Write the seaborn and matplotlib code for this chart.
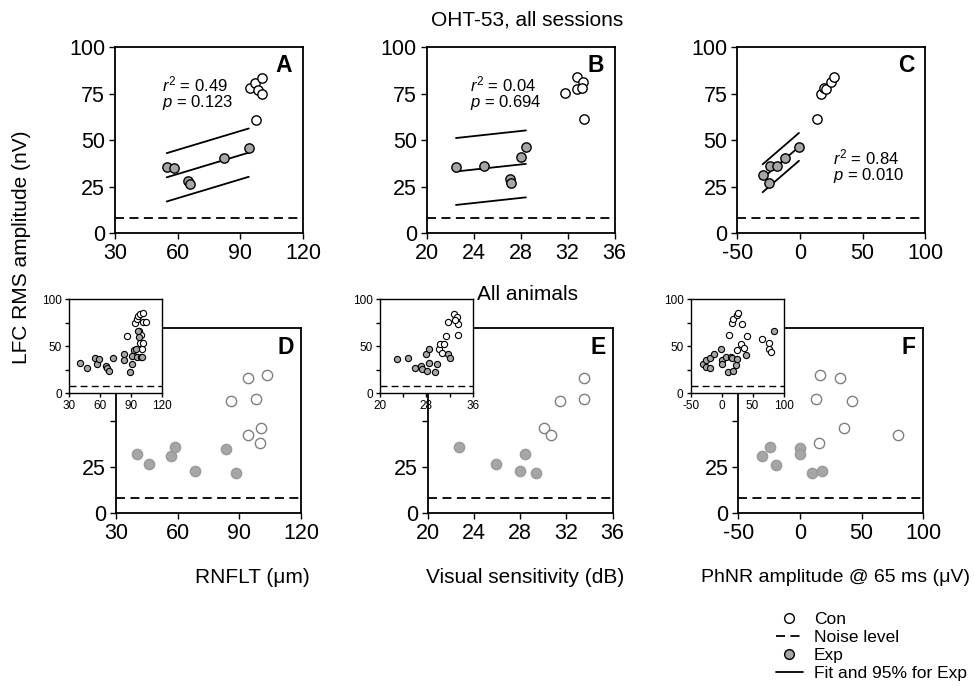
import numpy as np
import seaborn as sns
import matplotlib.pyplot as plt
from matplotlib.lines import Line2D

sns.set_style('ticks')
plt.rcParams['font.family'] = ['Liberation Sans', 'DejaVu Sans']
plt.rcParams['mathtext.fontset'] = 'custom'
plt.rcParams['mathtext.rm'] = 'Liberation Sans'
plt.rcParams['mathtext.it'] = 'Liberation Sans:italic'
plt.rcParams['axes.unicode_minus'] = False
plt.rcParams['text.color'] = 'black'
plt.rcParams['axes.labelcolor'] = 'black'

# ---------------- data: OHT-53, all sessions (top row) ----------------
rnflt_con_A = [94.6, 97.0, 100.5, 98.7, 100.5, 97.3]
lfc_con_A = [78.3, 80.8, 83.7, 77.2, 75.1, 61.1]
rnflt_exp_A = [54.8, 58.4, 65.1, 65.9, 82.2, 94.1]
lfc_exp_A = [35.6, 35.3, 28.1, 26.3, 40.3, 45.9]

vs_con_B = [31.8, 32.8, 33.3, 32.8, 33.2, 33.4]
lfc_con_B = [75.3, 84.2, 81.5, 77.8, 78.3, 61.7]
vs_exp_B = [22.5, 24.9, 27.1, 27.2, 28.0, 28.45]
lfc_exp_B = [35.8, 36.2, 29.0, 26.9, 40.9, 46.4]

phnr_con_C = [13.7, 16.9, 19.4, 20.4, 25.0, 27.2]
lfc_con_C = [61.7, 74.7, 78.3, 77.4, 81.3, 84.2]
phnr_exp_C = [-29.8, -24.7, -24.2, -18.0, -12.1, -0.8]
lfc_exp_C = [31.3, 27.2, 35.9, 36.2, 40.7, 46.4]

# half width of the 95% lines
band_half = [13.0, 18.0, 7.5]
stats_r2 = ['0.49', '0.04', '0.84']
stats_p = ['0.123', '0.694', '0.010']

# ---------------- data: All animals (bottom row, main panels) ----------------
rnflt_con_D = [94.3, 103.3, 85.8, 97.9, 94.3, 100.5, 100.2]
lfc_con_D = [72.8, 74.6, 60.7, 61.6, 42.0, 46.1, 37.7]
rnflt_exp_D = [40.3, 46.1, 56.9, 58.5, 68.7, 83.6, 88.4]
lfc_exp_D = [31.9, 26.3, 31.0, 35.5, 22.9, 34.8, 21.8]

vs_con_E = [33.5, 33.5, 31.45, 30.1, 30.7]
lfc_con_E = [72.8, 61.5, 60.5, 46.1, 42.2]
vs_exp_E = [22.7, 25.9, 28.0, 28.4, 29.4]
lfc_exp_E = [35.7, 26.3, 22.7, 31.9, 21.8]

phnr_con_F = [16.3, 32.2, 12.7, 42.2, 36.0, 15.4, 79.5]
lfc_con_F = [74.8, 72.8, 61.6, 60.7, 46.1, 37.7, 42.2]
phnr_exp_F = [-30.5, -24.6, -19.2, 0.3, 0.3, 10.0, 18.1]
lfc_exp_F = [31.0, 35.7, 26.1, 35.0, 31.7, 21.8, 22.9]

# ---------------- data: insets (all sessions of all animals) ----------------
rnflt_con_Di = [85.6, 93.7, 95.3, 96.2, 98.5, 101.7, 101.1, 104.3, 97.8, 99.5, 98.5, 100.7, 101.7]
lfc_con_Di = [61.1, 74.3, 78.6, 82.1, 83.9, 85.0, 76.1, 75.4, 66.4, 61.8, 53.6, 46.4, 52.9]
rnflt_exp_Di = [40.6, 47.0, 55.1, 57.0, 58.9, 65.7, 67.0, 68.9, 72.4, 83.1, 83.4, 88.5,
                90.5, 91.1, 93.0, 94.6, 95.3, 96.2, 97.2, 99.1, 100.4]
lfc_exp_Di = [32.5, 27.1, 36.8, 31.4, 36.4, 29.3, 26.8, 23.6, 37.1, 41.4, 35.7, 22.9,
              39.3, 30.7, 45.7, 46.8, 37.9, 66.1, 60.0, 37.9, 37.9]

vs_con_Ei = [30.1, 30.4, 31.0, 30.7, 31.3, 31.8, 32.7, 33.1, 33.3, 33.5, 33.4, 32.9]
lfc_con_Ei = [46.4, 52.1, 52.1, 42.9, 61.1, 75.4, 84.3, 77.9, 81.4, 73.2, 61.8, 77.9]
vs_exp_Ei = [22.9, 24.9, 26.0, 27.1, 27.3, 28.0, 28.1, 28.5, 28.5, 29.4, 29.9, 31.7, 32.0]
lfc_exp_Ei = [36.4, 36.8, 26.8, 28.9, 26.1, 41.1, 23.6, 46.4, 32.1, 22.5, 30.7, 41.1, 37.5]

phnr_con_Fi = [12.6, 16.4, 19.1, 24.5, 26.6, 32.6, 41.7, 30.9, 36.3, 25.6, 65.0, 75.7, 76.8, 80.1]
lfc_con_Fi = [61.8, 74.3, 78.6, 83.2, 85.0, 73.2, 61.1, 52.1, 47.5, 45.7, 57.5, 52.9, 46.8, 43.2]
phnr_exp_Fi = [-30.6, -25.2, -25.2, -18.7, -18.7, -12.2, -1.4, 0.2, 1.3, 7.2, 14.8, 16.9,
               11.0, 19.1, 22.9, 25.6, 39.6, 83.8]
lfc_exp_Fi = [31.4, 35.7, 27.5, 26.8, 36.8, 41.1, 46.8, 35.0, 31.4, 38.6, 37.9, 37.1,
              22.5, 23.6, 30.4, 36.4, 40.0, 66.4]

noise_level = 8
x_ranges = [(30, 120, [30, 60, 90, 120]), (20, 36, [20, 24, 28, 32, 36]), (-50, 100, [-50, 0, 50, 100])]
inset_xlabels = [['30', '60', '90', '120'], ['20', '', '28', '', '36'], ['-50', '0', '50', '100']]
xlabels = ['RNFLT (\u03bcm)', 'Visual sensitivity (dB)', 'PhNR amplitude @ 65 ms (\u03bcV)']

GRAY = '#a6a6a6'

fig = plt.figure(figsize=(9.74, 6.86), dpi=100)

lefts = [0.118, 0.438, 0.757]
inset_lefts = [0.071, 0.390, 0.709]
W, H = 0.193, 0.271


def style_ax(ax, xr, small=False):
    lo, hi, ticks = xr
    ax.set_xlim(lo, hi)
    ax.set_ylim(0, 100)
    ax.set_xticks(ticks)
    ax.set_yticks([0, 25, 50, 75, 100])
    for sp in ax.spines.values():
        sp.set_visible(True)
        sp.set_linewidth(1.0 if small else 1.3)
        sp.set_color('black')
    ax.tick_params(direction='out', length=3 if small else 4, width=1.0,
                   labelsize=8.5 if small else 15.5, colors='black', pad=2 if small else 3)
    ax.axhline(noise_level, color='black', lw=1.0 if small else 1.3, ls=(0, (5, 3)), zorder=1)
    ax.set_xlabel('')
    ax.set_ylabel('')


top = [(rnflt_con_A, lfc_con_A, rnflt_exp_A, lfc_exp_A),
       (vs_con_B, lfc_con_B, vs_exp_B, lfc_exp_B),
       (phnr_con_C, lfc_con_C, phnr_exp_C, lfc_exp_C)]
bottom = [(rnflt_con_D, lfc_con_D, rnflt_exp_D, lfc_exp_D),
          (vs_con_E, lfc_con_E, vs_exp_E, lfc_exp_E),
          (phnr_con_F, lfc_con_F, phnr_exp_F, lfc_exp_F)]
insets = [(rnflt_con_Di, lfc_con_Di, rnflt_exp_Di, lfc_exp_Di),
          (vs_con_Ei, lfc_con_Ei, vs_exp_Ei, lfc_exp_Ei),
          (phnr_con_Fi, lfc_con_Fi, phnr_exp_Fi, lfc_exp_Fi)]
letters_top = ['A', 'B', 'C']
letters_bot = ['D', 'E', 'F']
stat_pos = [(0.25, 0.80), (0.23, 0.80), (0.51, 0.41)]
# (x position, alignment, size) of the bottom x labels
xlabel_x = [0.259, 0.539, 0.996]
xlabel_ha = ['center', 'center', 'right']
xlabel_size = [15, 15, 14]

# ---------------- top row ----------------
for i in range(3):
    ax = fig.add_axes([lefts[i], 0.660, W, H])
    xc, yc, xe, ye = top[i]
    sns.scatterplot(x=xc, y=yc, ax=ax, color='white', edgecolor='black', s=45, linewidth=1.0, zorder=4)
    sns.scatterplot(x=xe, y=ye, ax=ax, color=GRAY, edgecolor='black', s=45, linewidth=1.0, zorder=4)
    slope, icpt = np.polyfit(xe, ye, 1)
    xs = np.array([min(xe), max(xe)])
    fit = icpt + slope * xs
    for off in (0, band_half[i], -band_half[i]):
        ax.plot(xs, fit + off, color='black', lw=1.3, zorder=3)
    style_ax(ax, x_ranges[i])
    ax.text(0.90, 0.90, letters_top[i], transform=ax.transAxes, fontsize=16.5,
            fontweight='bold', ha='center', va='center')
    sx, sy = stat_pos[i]
    ax.text(sx, sy, '$\\it{r}^2$ = ' + stats_r2[i], transform=ax.transAxes, fontsize=12, va='center')
    ax.text(sx, sy - 0.097, '$\\it{p}$ = ' + stats_p[i], transform=ax.transAxes, fontsize=12, va='center')

# ---------------- bottom row ----------------
for i in range(3):
    ax = fig.add_axes([lefts[i] + 0.001, 0.252, W - 0.003, 0.270])
    xc, yc, xe, ye = bottom[i]
    sns.scatterplot(x=xc, y=yc, ax=ax, color='white', edgecolor='#7f7f7f', s=55, linewidth=1.0, zorder=4)
    sns.scatterplot(x=xe, y=ye, ax=ax, color=GRAY, edgecolor='#9a9a9a', s=55, linewidth=1.0, zorder=4)
    style_ax(ax, x_ranges[i])
    ax.set_yticklabels(['0', '25', '', '', ''])
    ax.text(0.92, 0.895, letters_bot[i], transform=ax.transAxes, fontsize=16.5,
            fontweight='bold', ha='center', va='center')
    fig.text(xlabel_x[i], 0.158, xlabels[i], fontsize=xlabel_size[i], ha=xlabel_ha[i], va='center')

    axi = fig.add_axes([inset_lefts[i], 0.427, 0.0955, 0.137])
    axi.set_facecolor('white')
    xc, yc, xe, ye = insets[i]
    sns.scatterplot(x=xc, y=yc, ax=axi, color='white', edgecolor='black', s=20, linewidth=0.8, zorder=4)
    sns.scatterplot(x=xe, y=ye, ax=axi, color=GRAY, edgecolor='black', s=20, linewidth=0.8, zorder=4)
    style_ax(axi, x_ranges[i], small=True)
    axi.set_yticklabels(['0', '', '50', '', '100'])
    axi.set_xticklabels(inset_xlabels[i])

fig.text(0.022, 0.64, 'LFC RMS amplitude (nV)', rotation=90, fontsize=15, ha='center', va='center')
fig.text(0.541, 0.971, 'OHT-53, all sessions', fontsize=15, ha='center', va='center')
fig.text(0.542, 0.570, 'All animals', fontsize=15, ha='center', va='center')

handles = [
    Line2D([], [], ls='none', marker='o', mfc='white', mec='black', ms=7, mew=1.0),
    Line2D([], [], color='black', lw=1.3, ls=(0, (5, 3))),
    Line2D([], [], ls='none', marker='o', mfc=GRAY, mec='black', ms=7, mew=1.0),
    Line2D([], [], color='black', lw=1.3),
]
fig.legend(handles, ['Con', 'Noise level', 'Exp', 'Fit and 95% for Exp'],
           loc='lower right', bbox_to_anchor=(1.005, -0.01), frameon=False, fontsize=12.5,
           handlelength=1.6, handletextpad=0.6, labelspacing=0.15, borderpad=0.2)

fig.savefig('out.png', dpi=100)
